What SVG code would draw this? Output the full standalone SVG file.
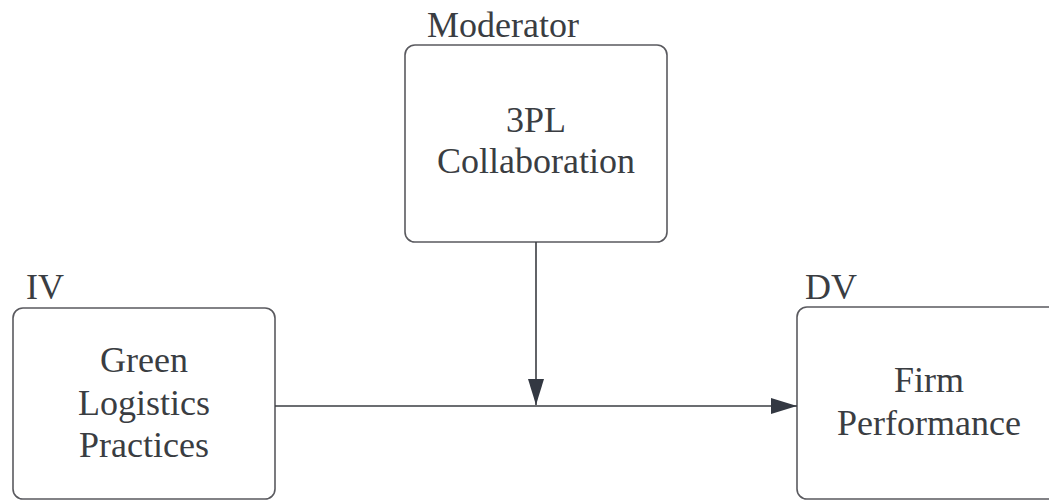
<svg xmlns="http://www.w3.org/2000/svg" width="1049" height="501" viewBox="0 0 1049 501">
<style>
.box{fill:#fff;stroke:#5a5a5f;stroke-width:1.6}
.t{font-family:"Liberation Serif","Times New Roman",serif;font-size:36px;fill:#3a3d42}
.c{text-anchor:middle}
.ln{stroke:#3a3d42;stroke-width:1.6;fill:none}
</style>
<defs>
<marker id="ah" viewBox="0 0 26 16" refX="26" refY="8" markerWidth="26" markerHeight="16" markerUnits="userSpaceOnUse" orient="auto">
<path d="M0,0 L26,8 L0,16 Z" fill="#333842"/>
</marker>
</defs>
<rect width="1049" height="501" fill="#fff"/>
<g id="moderator">
<rect class="box" x="405" y="45" width="262" height="197" rx="10"/>
<text class="t" x="427" y="37">Moderator</text>
<text class="t c" x="536" y="132">3PL</text>
<text class="t c" x="536" y="173">Collaboration</text>
</g>
<g id="iv">
<rect class="box" x="13" y="308" width="262" height="191" rx="10"/>
<text class="t" x="26" y="299">IV</text>
<text class="t c" x="144" y="372">Green</text>
<text class="t c" x="144" y="415">Logistics</text>
<text class="t c" x="144" y="457">Practices</text>
</g>
<g id="dv">
<rect class="box" x="797" y="307" width="264" height="192" rx="10"/>
<text class="t" x="805" y="299">DV</text>
<text class="t c" x="929" y="392">Firm</text>
<text class="t c" x="929" y="435">Performance</text>
</g>
<g id="connectors">
<line class="ln" x1="275" y1="406" x2="797" y2="406" marker-end="url(#ah)"/>
<line class="ln" x1="536" y1="242" x2="536" y2="405" marker-end="url(#ah)"/>
</g>
</svg>
